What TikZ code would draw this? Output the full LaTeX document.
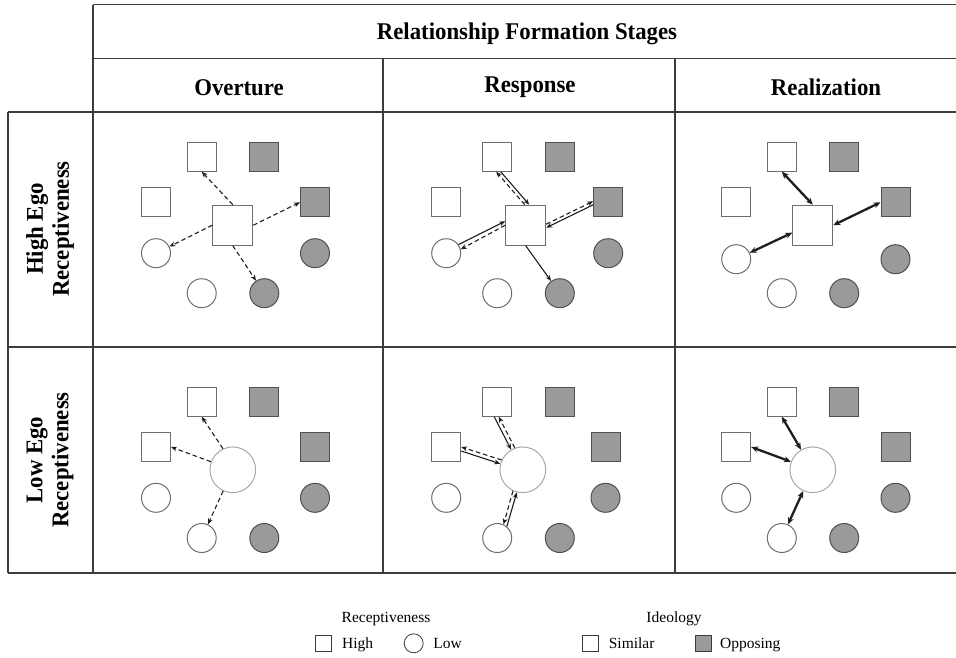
\documentclass[tikz,border=0pt]{standalone}
\usepackage{fontspec}
\setmainfont{Liberation Serif}
\newfontfamily\headfont[FakeStretch=0.95]{Liberation Serif}
\usetikzlibrary{arrows.meta,positioning}

\definecolor{rulegray}{HTML}{3C3C3C}
\definecolor{edgegray}{HTML}{6E6E6E}
\definecolor{oppfill}{HTML}{9A9A9A}
\definecolor{oppedge}{HTML}{505050}
\definecolor{egoedge}{HTML}{A8A8A8}
\definecolor{ink}{HTML}{1E1E1E}

\tikzset{
  person/.style={minimum size=29pt, inner sep=0pt, line width=1pt},
  simsq/.style={person, rectangle, draw=edgegray, fill=white},
  oppsq/.style={person, rectangle, draw=oppedge, fill=oppfill},
  simci/.style={person, circle, draw=edgegray, fill=white},
  oppci/.style={person, circle, draw=oppedge, fill=oppfill},
  egosq/.style={rectangle, draw=edgegray, fill=white, minimum size=40pt, inner sep=0pt, line width=1pt},
  egoci/.style={circle, draw=egoedge, fill=white, minimum size=45.7pt, inner sep=0pt, line width=1pt},
  overture/.style={draw=ink, line width=1.1pt, dash pattern=on 4.5pt off 3pt, -{Stealth[length=6pt,width=4.8pt]}},
  reply/.style={draw=ink, line width=1.1pt, -{Stealth[length=6pt,width=4.8pt]}},
  bond/.style={draw=ink, line width=2.3pt, {Stealth[length=7pt,width=6pt]}-{Stealth[length=7pt,width=6pt]}},
  headtext/.style={font={\headfont\bfseries\fontsize{24}{26}\selectfont}},
  keytext/.style={font={\fontsize{15.5}{18}\selectfont}, inner sep=0pt, text height=12pt, text depth=2pt},
  keysq/.style={rectangle, draw=rulegray, fill=white, minimum size=16.5pt, inner sep=0pt, line width=0.8pt},
  keyci/.style={circle, draw=rulegray, fill=white, minimum size=19pt, inner sep=0pt, line width=0.8pt}
}

% eight others round one ego: id, four x, four y
\newcommand{\crowd}[9]{%
  \node[simsq] (#1-hs1) at (#3,#6) {};
  \node[oppsq] (#1-ho1) at (#4,#6) {};
  \node[simsq] (#1-hs2) at (#2,#7) {};
  \node[oppsq] (#1-ho2) at (#5,#7) {};
  \node[simci] (#1-ls1) at (#2,#8) {};
  \node[oppci] (#1-lo1) at (#5,#8) {};
  \node[simci] (#1-ls2) at (#3,#9) {};
  \node[oppci] (#1-lo2) at (#4,#9) {};
}

\begin{document}
\begin{tikzpicture}[x=1pt, y=-1pt]
  \useasboundingbox (0,0) rectangle (956,657);

  % table
  \draw[rulegray, line width=1.6pt]
    (93,4.5) -- (956,4.5)
    (93,58.3) -- (956,58.3)
    (8,112) -- (956,112)
    (8,347) -- (956,347)
    (8,573) -- (956,573)
    (93,4.5) -- (93,573)
    (8,112) -- (8,573)
    (383,58.3) -- (383,573)
    (675,58.3) -- (675,573);

  \node[headtext, anchor=base] (stages) at (527,39) {Relationship Formation Stages};
  \node[headtext, anchor=base] (ov) at (239,95) {Overture};
  \node[headtext, anchor=base] (re) at (530,92) {Response};
  \node[headtext, anchor=base] (rz) at (826,95) {Realization};
  \node[headtext, rotate=90, align=center] (rowhi) at (50,229) {High Ego\\Receptiveness};
  \node[headtext, rotate=90, align=center] (rowlo) at (50,460) {Low Ego\\Receptiveness};

  % high ego receptiveness
  \crowd{hiOv}{156}{201.7}{264.3}{315}{156.7}{202.3}{253.2}{293.2}
  \node[egosq] (hiOv-ego) at (232.8,225.2) {};
  \crowd{hiRe}{446.2}{497.2}{559.8}{608.2}{156.7}{202.3}{253.2}{293.2}
  \node[egosq] (hiRe-ego) at (525.7,225.2) {};
  \crowd{hiRz}{736.2}{781.8}{844.2}{895.5}{156.7}{202.3}{259.2}{293.2}
  \node[egosq] (hiRz-ego) at (812.8,225.2) {};

  % low ego receptiveness
  \crowd{loOv}{156}{201.7}{264.3}{315}{401.7}{447}{497.8}{538}
  \node[egoci] (loOv-ego) at (232.8,469.8) {};
  \crowd{loRe}{446.2}{497.2}{559.8}{605.5}{401.7}{447}{497.8}{538}
  \node[egoci] (loRe-ego) at (522.8,469.8) {};
  \crowd{loRz}{736.2}{781.8}{844.2}{895.5}{401.7}{447}{497.8}{538}
  \node[egoci] (loRz-ego) at (812.8,469.8) {};

  % overture
  \draw[overture] (hiOv-ego.north) -- (hiOv-hs1.south);
  \draw[overture] (hiOv-ego.east) -- (hiOv-ho2.west);
  \draw[overture] (hiOv-ego.west) -- (hiOv-ls1);
  \draw[overture] (hiOv-ego.south) -- (hiOv-lo2);
  \draw[overture] (loOv-ego.115) -- (loOv-hs1.south);
  \draw[overture] (loOv-ego) -- (loOv-hs2.east);
  \draw[overture] (loOv-ego) -- (loOv-ls2);

  % response
  \draw[overture] ([xshift=-1pt]hiRe-ego.north) -- ([xshift=-1pt]hiRe-hs1.south);
  \draw[reply] ([xshift=3.5pt]hiRe-hs1.south) -- ([xshift=3.5pt]hiRe-ego.north);
  \draw[overture] ([yshift=1pt]hiRe-ego.east) -- ([yshift=1pt]hiRe-ho2.west);
  \draw[reply] ([yshift=-2.5pt]hiRe-ho2.west) -- ([yshift=-2.5pt]hiRe-ego.east);
  \draw[reply] (hiRe-ls1.35) -- ([yshift=4pt]hiRe-ego.west);
  \draw[overture] (hiRe-ego.west) -- (hiRe-ls1.15);
  \draw[reply] (hiRe-ego.south) -- (hiRe-lo2);
  \draw[reply] ([xshift=-3pt]loRe-hs1.south) -- (loRe-ego.120);
  \draw[overture] (loRe-ego.110) -- ([xshift=1.5pt]loRe-hs1.south);
  \draw[overture] (loRe-ego.155) -- (loRe-hs2.east);
  \draw[reply] ([yshift=-4pt]loRe-hs2.east) -- (loRe-ego.165);
  \draw[overture] (loRe-ego.245) -- (loRe-ls2.65);
  \draw[reply] (loRe-ls2.50) -- (loRe-ego.255);

  % realization
  \draw[bond] (hiRz-hs1.south) -- (hiRz-ego.north);
  \draw[bond] (hiRz-ego.east) -- (hiRz-ho2.west);
  \draw[bond] (hiRz-ego.200) -- (hiRz-ls1);
  \draw[bond] (loRz-hs1.south) -- (loRz-ego);
  \draw[bond] (loRz-hs2.east) -- (loRz-ego);
  \draw[bond] (loRz-ls2) -- (loRz-ego);

  % legend
  \node[keytext] (keyrec) at (386,617) {Receptiveness};
  \node[keysq] (keyhi) at (323.3,643.3) {};
  \node[keytext, right=10pt of keyhi] (keyhitext) {High};
  \node[keyci] (keylo) at (413.7,643.3) {};
  \node[keytext, right=9.5pt of keylo] (keylotext) {Low};
  \node[keytext] (keyide) at (674,617) {Ideology};
  \node[keysq] (keysim) at (590.5,643.3) {};
  \node[keytext, right=9.5pt of keysim] (keysimtext) {Similar};
  \node[keysq, fill=oppfill] (keyopp) at (703.3,643.3) {};
  \node[keytext, right=8pt of keyopp] (keyopptext) {Opposing};
\end{tikzpicture}
\end{document}
